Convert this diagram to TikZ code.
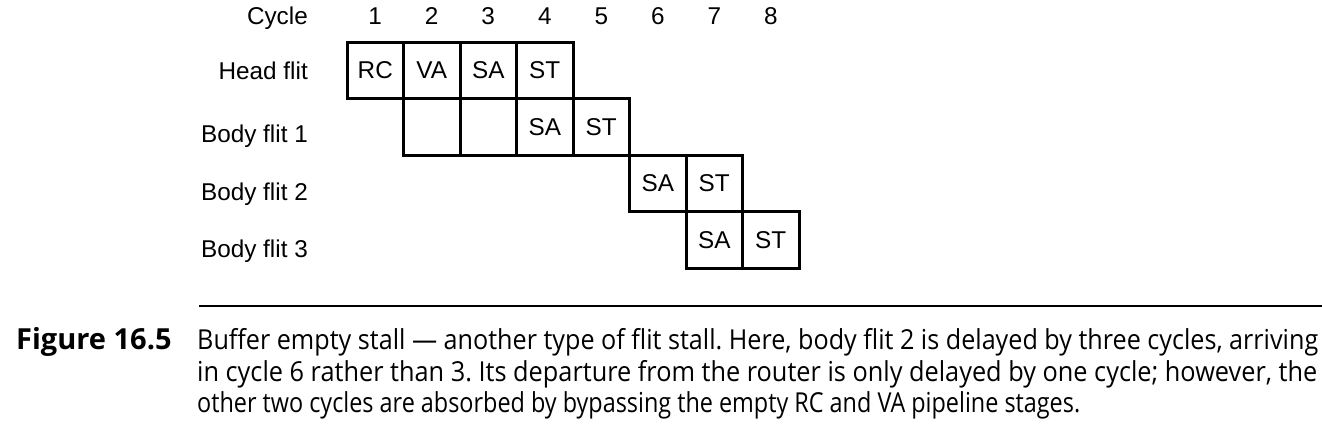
\documentclass[tikz,border=0pt]{standalone}
\usepackage{fontspec}
\setmainfont{Liberation Sans}
\newfontfamily\capfont{Open Sans}
\frenchspacing
\begin{document}
\begin{tikzpicture}[x=1pt,y=-1pt,
  diag/.style={font=\fontsize{24.3}{28}\selectfont},
  cell/.style={diag,draw,line width=3pt,minimum size=56.5pt,inner sep=0pt},
  lbl/.style={diag,anchor=base east,inner sep=0pt},
  num/.style={diag,anchor=base,inner sep=0pt},
  capt/.style={anchor=base west,inner sep=0pt,font=\capfont\fontsize{27.5}{32}\selectfont},
  captb/.style={anchor=base west,inner sep=0pt,font=\capfont\bfseries\fontsize{29}{32}\selectfont},
  rule/.style={line width=1.5pt}
]
\useasboundingbox (0,0) rectangle (1322,432);
% header
\node[lbl] (cyc) at (308,24) {Cycle};
\node[num] (c1) at (375.25,24) {1};
\node[num] (c2) at (431.75,24) {2};
\node[num] (c3) at (488.25,24) {3};
\node[num] (c4) at (544.75,24) {4};
\node[num] (c5) at (601.25,24) {5};
\node[num] (c6) at (657.75,24) {6};
\node[num] (c7) at (714.25,24) {7};
\node[num] (c8) at (770.75,24) {8};
% row labels
\node[lbl] (lh) at (308,79) {Head flit};
\node[lbl] (lb1) at (308,142) {Body flit 1};
\node[lbl] (lb2) at (308,200) {Body flit 2};
\node[lbl] (lb3) at (308,257) {Body flit 3};
% head flit
\node[cell] (h1) at (375.25,70.25) {RC};
\node[cell] (h2) at (431.75,70.25) {VA};
\node[cell] (h3) at (488.25,70.25) {SA};
\node[cell] (h4) at (544.75,70.25) {ST};
% body flit 1
\node[cell] (a2) at (431.75,126.75) {};
\node[cell] (a3) at (488.25,126.75) {};
\node[cell] (a4) at (544.75,126.75) {SA};
\node[cell] (a5) at (601.25,126.75) {ST};
% body flit 2
\node[cell] (b6) at (657.75,183.25) {SA};
\node[cell] (b7) at (714.25,183.25) {ST};
% body flit 3
\node[cell] (d7) at (714.25,239.75) {SA};
\node[cell] (d8) at (770.75,239.75) {ST};
% rule
\coordinate (rl) at (199,306);
\coordinate (rr) at (1322,306);
\draw[rule] (rl) -- (rr);
% caption
\node[captb] (fig) at (16,349) {Figure 16.5};
\node[capt] (t1) at (197,349) {\resizebox{1121pt}{\height}{Buffer empty stall — another type of flit stall. Here, body flit 2 is delayed by three cycles, arriving}};
\node[capt] (t2) at (197,381) {\resizebox{1120pt}{\height}{in cycle 6 rather than 3. Its departure from the router is only delayed by one cycle; however, the}};
\node[capt] (t3) at (197,412) {\resizebox{883pt}{\height}{other two cycles are absorbed by bypassing the empty RC and VA pipeline stages.}};
\end{tikzpicture}
\end{document}
